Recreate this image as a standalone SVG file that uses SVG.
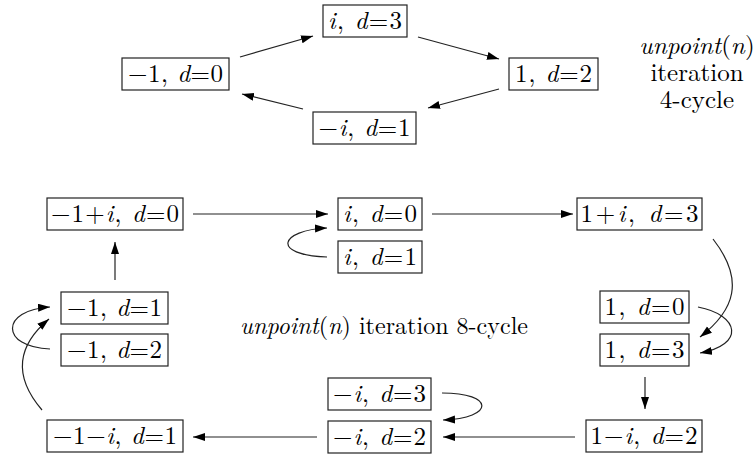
<svg xmlns="http://www.w3.org/2000/svg" width="755" height="455" viewBox="0 0 755 455">
<style>
  .box { fill: #ffffff; stroke: #222222; stroke-width: 1.2; }
  .lbl { font-family: "Latin Modern Roman", "CMU Serif", "Times New Roman", Times, Tinos, "Nimbus Roman", "FreeSerif", "Noto Serif", "Liberation Serif", "DejaVu Serif", Georgia, serif; font-size: 25px; fill: #000000; text-anchor: middle; }
  .side { font-size: 24px; }
  .it { font-style: italic; }
  .edge { fill: none; stroke: #222222; stroke-width: 1.2; marker-end: url(#ah); }
</style>
<defs>
  <marker id="ah" markerWidth="13" markerHeight="9" refX="12" refY="4" orient="auto" markerUnits="userSpaceOnUse">
    <path d="M0,0 L12,4 L0,8 z" fill="#000000"/>
  </marker>
</defs>
<rect width="755" height="455" fill="#ffffff"/>

<g id="connectors">
  <path class="edge" d="M 240 57 L 313 36"/>
  <path class="edge" d="M 418 37 L 499 59"/>
  <path class="edge" d="M 499 89 L 428 108"/>
  <path class="edge" d="M 303 109 L 242 94"/>
  <path class="edge" d="M 193 214 L 328 214"/>
  <path class="edge" d="M 432 214 L 573 214"/>
  <path class="edge" d="M 327 257 C 270 255, 280 230, 327 228"/>
  <path class="edge" d="M 713 239 C 745 280, 735 310, 700 337"/>
  <path class="edge" d="M 698 307 C 740 315, 745 345, 700 353"/>
  <path class="edge" d="M 645 377 L 645 409"/>
  <path class="edge" d="M 575 437 L 443 437"/>
  <path class="edge" d="M 442 393 C 495 393, 495 418, 443 420"/>
  <path class="edge" d="M 317 437 L 193 437"/>
  <path class="edge" d="M 42 410 C 12 375, 18 345, 49 319"/>
  <path class="edge" d="M 50 349 C 0 347, 0 310, 50 307"/>
  <path class="edge" d="M 115 280 L 115 242"/>
</g>

<g id="n_m1_d0">
  <rect class="box" x="122" y="58" width="107" height="32"/>
  <text class="lbl" x="175.5" y="82" textLength="95" lengthAdjust="spacing">−1, <tspan class="it">d</tspan>=0</text>
</g>
<g id="n_i_d3">
  <rect class="box" x="323" y="5" width="84" height="32"/>
  <text class="lbl" x="365" y="29" textLength="74" lengthAdjust="spacing"><tspan class="it">i</tspan>, <tspan class="it">d</tspan>=3</text>
</g>
<g id="n_1_d2">
  <rect class="box" x="509" y="58" width="89" height="32"/>
  <text class="lbl" x="553.5" y="82" textLength="77" lengthAdjust="spacing">1, <tspan class="it">d</tspan>=2</text>
</g>
<g id="n_mi_d1">
  <rect class="box" x="313" y="112" width="103" height="32"/>
  <text class="lbl" x="364.5" y="136" textLength="92" lengthAdjust="spacing">−<tspan class="it">i</tspan>, <tspan class="it">d</tspan>=1</text>
</g>

<g id="label_4cycle">
  <text class="lbl" x="697" y="54"><tspan class="it">unpoint</tspan>(<tspan class="it">n</tspan>)</text>
  <text class="lbl" x="697" y="81">iteration</text>
  <text class="lbl" x="697" y="108">4-cycle</text>
</g>

<g id="n_m1pi_d0">
  <rect class="box" x="47" y="198" width="136" height="32"/>
  <text class="lbl" x="115" y="222" textLength="128" lengthAdjust="spacing">−1+<tspan class="it">i</tspan>, <tspan class="it">d</tspan>=0</text>
</g>
<g id="n_i_d0">
  <rect class="box" x="338" y="198" width="84" height="32"/>
  <text class="lbl" x="380" y="222" textLength="74" lengthAdjust="spacing"><tspan class="it">i</tspan>, <tspan class="it">d</tspan>=0</text>
</g>
<g id="n_i_d1">
  <rect class="box" x="338" y="241" width="84" height="32"/>
  <text class="lbl" x="380" y="265" textLength="74" lengthAdjust="spacing"><tspan class="it">i</tspan>, <tspan class="it">d</tspan>=1</text>
</g>
<g id="n_1pi_d3">
  <rect class="box" x="577" y="198" width="125" height="32"/>
  <text class="lbl" x="639.5" y="222" textLength="118" lengthAdjust="spacing">1+<tspan class="it">i</tspan>, <tspan class="it">d</tspan>=3</text>
</g>
<g id="n_1_d0">
  <rect class="box" x="600" y="291" width="89" height="32"/>
  <text class="lbl" x="644.5" y="315" textLength="80" lengthAdjust="spacing">1, <tspan class="it">d</tspan>=0</text>
</g>
<g id="n_1_d3">
  <rect class="box" x="600" y="334" width="89" height="32"/>
  <text class="lbl" x="644.5" y="358" textLength="80" lengthAdjust="spacing">1, <tspan class="it">d</tspan>=3</text>
</g>
<g id="n_m1_d1">
  <rect class="box" x="61" y="292" width="107" height="32"/>
  <text class="lbl" x="114.5" y="316" textLength="95" lengthAdjust="spacing">−1, <tspan class="it">d</tspan>=1</text>
</g>
<g id="n_m1_d2">
  <rect class="box" x="61" y="334" width="107" height="32"/>
  <text class="lbl" x="114.5" y="358" textLength="95" lengthAdjust="spacing">−1, <tspan class="it">d</tspan>=2</text>
</g>
<g id="n_m1mi_d1">
  <rect class="box" x="47" y="420" width="136" height="32"/>
  <text class="lbl" x="115" y="444" textLength="124" lengthAdjust="spacing">−1−<tspan class="it">i</tspan>, <tspan class="it">d</tspan>=1</text>
</g>
<g id="n_mi_d3">
  <rect class="box" x="328" y="378" width="103" height="32"/>
  <text class="lbl" x="379.5" y="402" textLength="93" lengthAdjust="spacing">−<tspan class="it">i</tspan>, <tspan class="it">d</tspan>=3</text>
</g>
<g id="n_mi_d2">
  <rect class="box" x="328" y="421" width="103" height="32"/>
  <text class="lbl" x="379.5" y="445" textLength="93" lengthAdjust="spacing">−<tspan class="it">i</tspan>, <tspan class="it">d</tspan>=2</text>
</g>
<g id="n_1mi_d2">
  <rect class="box" x="586" y="420" width="116" height="32"/>
  <text class="lbl" x="644" y="444" textLength="107" lengthAdjust="spacing">1−<tspan class="it">i</tspan>, <tspan class="it">d</tspan>=2</text>
</g>

<g id="label_8cycle">
  <text class="lbl side" x="384" y="334" textLength="288" lengthAdjust="spacing"><tspan class="it">unpoint</tspan>(<tspan class="it">n</tspan>) iteration 8-cycle</text>
</g>
</svg>
